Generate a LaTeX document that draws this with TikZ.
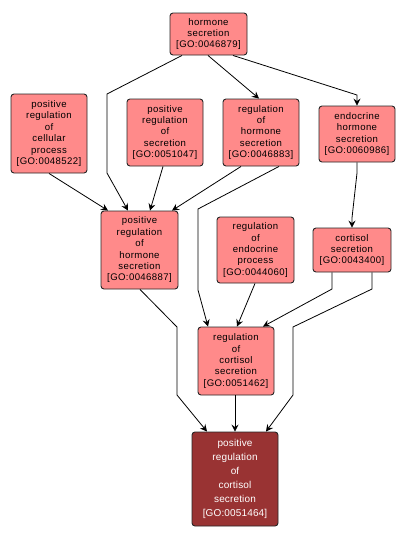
\documentclass[tikz,border=0pt]{standalone}
\usepackage{fontspec}
\setmainfont{Liberation Sans}[LetterSpace=4]
\newfontfamily\darkfont{Liberation Sans}[LetterSpace=1.5]
\usetikzlibrary{arrows.meta}
\definecolor{lightnode}{HTML}{FF8A8A}
\definecolor{darknode}{HTML}{993333}
\tikzset{
  gobox/.style={draw=black!85, line width=0.9pt, rounded corners=3pt, fill=lightnode,
    align=center, inner sep=0pt, font=\fontsize{9.6}{11.4}\selectfont, text=black},
  darkbox/.style={gobox, fill=darknode, text=white, font=\darkfont\fontsize{10}{14}\selectfont},
  edge/.style={draw=black, line width=0.8pt, -{Stealth[length=7pt,width=7pt,inset=2.5pt]}},
}
\begin{document}
\begin{tikzpicture}[x=1pt,y=-1pt]
\useasboundingbox (0,0) rectangle (406,539);
% nodes: center at ((x1+x2)/2,(y1+y2)/2)
\node[gobox, minimum width=77pt, minimum height=42pt] (hs) at (208.5,34) {hormone\\secretion\\{}[GO:0046879]};
\node[gobox, minimum width=76pt, minimum height=79pt] (prcp) at (49,133.5) {positive\\regulation\\of\\cellular\\process\\{}[GO:0048522]};
\node[gobox, minimum width=76pt, minimum height=67pt] (prs) at (165,132.5) {positive\\regulation\\of\\secretion\\{}[GO:0051047]};
\node[gobox, minimum width=76pt, minimum height=67pt] (rhs) at (261,132.5) {regulation\\of\\hormone\\secretion\\{}[GO:0046883]};
\node[gobox, minimum width=76pt, minimum height=56pt] (ehs) at (357,134) {endocrine\\hormone\\secretion\\{}[GO:0060986]};
\node[gobox, minimum width=77pt, minimum height=78pt] (prhs) at (139.5,250) {positive\\regulation\\of\\hormone\\secretion\\{}[GO:0046887]};
\node[gobox, minimum width=77pt, minimum height=66pt] (rep) at (255.5,250) {regulation\\of\\endocrine\\process\\{}[GO:0044060]};
\node[gobox, minimum width=78pt, minimum height=44pt] (cs) at (352,250) {cortisol\\secretion\\{}[GO:0043400]};
\node[gobox, minimum width=76pt, minimum height=68pt] (rcs) at (236,361) {regulation\\of\\cortisol\\secretion\\{}[GO:0051462]};
\node[darkbox, minimum width=86pt, minimum height=94pt] (prcs) at (235,479) {positive\\regulation\\of\\cortisol\\secretion\\{}[GO:0051464]};
% edges
\draw[edge] ([xshift=-26.5pt]hs.south) -- (107,94) -- (107,173) -- ([xshift=-11.5pt]prhs.north);
\draw[edge] ([xshift=-0.5pt]hs.south) -- ([xshift=-2pt]rhs.north);
\draw[edge] ([xshift=24.5pt]hs.south) -- (357,95) -- (ehs.north);
\draw[edge] ([xshift=0pt]prcp.south) -- ([xshift=-31.5pt]prhs.north);
\draw[edge] ([xshift=-2pt]prs.south) -- ([xshift=10.5pt]prhs.north);
\draw[edge] ([xshift=-20pt]rhs.south) -- ([xshift=32.5pt]prhs.north);
\draw[edge] ([xshift=18pt]rhs.south) -- (198,209) -- (198,290) -- ([xshift=-28pt]rcs.north);
\draw[edge] (ehs.south) -- (357,173) -- (352,218) -- (cs.north);
\draw[edge] ([xshift=-0.5pt]rep.south) -- ([xshift=1pt]rcs.north);
\draw[edge] ([xshift=-20pt]cs.south) -- (332,289) -- ([xshift=27pt]rcs.north);
\draw[edge] ([xshift=20pt]cs.south) -- (372,289) -- (293,327) -- (293,395) -- ([xshift=31pt]prcs.north);
\draw[edge] ([xshift=0.5pt]prhs.south) -- (177,327) -- (177,395) -- ([xshift=-28pt]prcs.north);
\draw[edge] ([xshift=-1pt]rcs.south) -- ([xshift=0pt]prcs.north);
\end{tikzpicture}
\end{document}
